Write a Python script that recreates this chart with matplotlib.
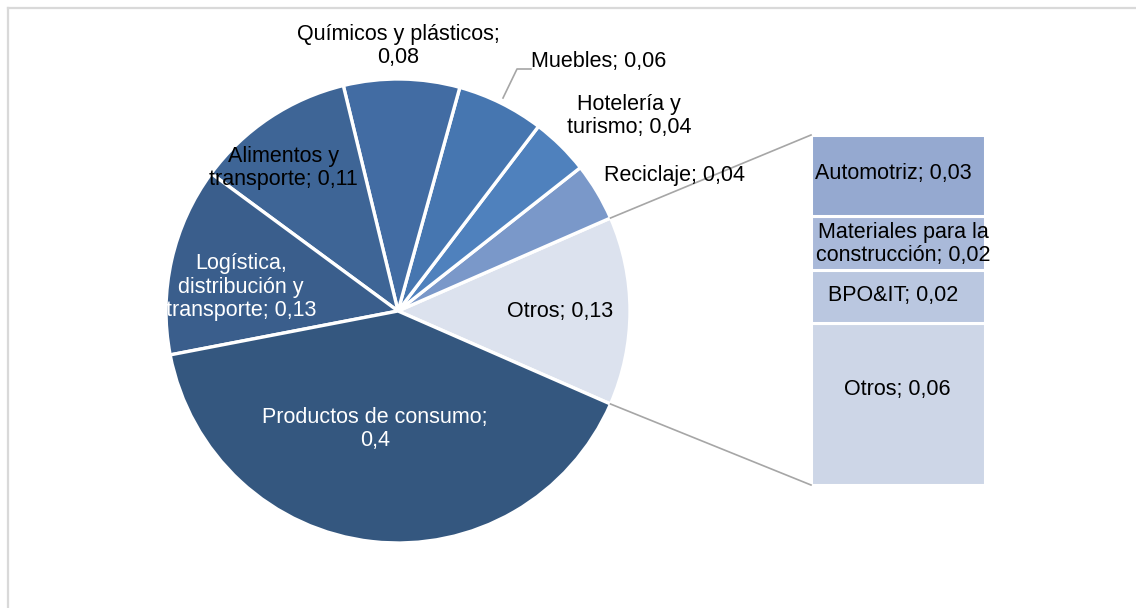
import numpy as np
import matplotlib.pyplot as plt
from matplotlib.lines import Line2D

plt.rcParams['font.family'] = ['Liberation Sans', 'DejaVu Sans']

# datos del pastel (orden antihorario desde "Otros")
pie_labels = ['Otros', 'Reciclaje', 'Hotelería y\nturismo', 'Muebles',
              'Químicos y plásticos;\n', 'Alimentos y\ntransporte',
              'Logística,\ndistribución y\ntransporte', 'Productos de consumo;\n']
pie_values = [0.13, 0.04, 0.04, 0.06, 0.08, 0.11, 0.13, 0.4]
pie_colors = ['#dce2ee', '#7a98c9', '#4f81bd', '#4676b0', '#426ca3',
              '#3e6596', '#3a5e8c', '#34577f']

# datos de la barra (de abajo hacia arriba)
bar_labels = ['Otros', 'BPO&IT', 'Materiales para la\nconstrucción', 'Automotriz']
bar_values = [0.06, 0.02, 0.02, 0.03]
bar_colors = ['#cdd6e7', '#bac7e0', '#a9b9d9', '#95a9d0']

W, H = 1136, 608
fig = plt.figure(figsize=(W / 100, H / 100), dpi=100)
ax = fig.add_axes([0, 0, 1, 1])

def fmt(v):
    return ('%g' % v).replace('.', ',')

# pastel
cx, cy, r = 398, H - 311, 232
frac0 = pie_values[0] / sum(pie_values)
wedges, _ = ax.pie(pie_values, colors=pie_colors, startangle=-frac0 * 180,
                   counterclock=True, center=(cx, cy), radius=r, frame=True,
                   wedgeprops=dict(edgecolor='white', linewidth=2.4))
ax.set_xlim(0, W)
ax.set_ylim(0, H)
ax.axis('off')

fs = 15.5
ls = 1.17
# posiciones de etiquetas (px desde arriba)
pie_pos = [(560, 311), (674, 175), (629, 116), (599, 62), (398, 46),
           (283, 168), (241, 287), (375, 429)]
pie_tc = ['black', 'black', 'black', 'black', 'black', 'black', 'white', 'white']
for i, (lab, v) in enumerate(zip(pie_labels, pie_values)):
    if lab.endswith('\n'):
        txt = lab + fmt(v)
    else:
        txt = lab + '; ' + fmt(v)
    x, y = pie_pos[i]
    ax.text(x, H - y, txt, ha='center', va='center', fontsize=fs,
            color=pie_tc[i], linespacing=ls)

# linea guia de Muebles
ax.plot([531, 517, 503], [H - 69, H - 69, H - 98], color='#a6a6a6', lw=1.2)

# barra
bx, bw = 898, 174
top, bottom = H - 135, H - 485
scale = (top - bottom) / sum(bar_values)
base = bottom
for v, c in zip(bar_values, bar_colors):
    ax.bar(bx, v * scale, width=bw, bottom=base, color=c,
           edgecolor='white', linewidth=2.2)
    base += v * scale
bar_text_pos = [(897, 389), (893, 296), (903, 244), (893, 173)]
for lab, v, (xx, yy) in zip(bar_labels, bar_values, bar_text_pos):
    ax.text(xx, H - yy, lab + '; ' + fmt(v), ha='center', va='center',
            fontsize=fs, color='black', linespacing=ls)

# conectores
w0 = wedges[0]
for ang, by in [(w0.theta2, top), (w0.theta1, bottom)]:
    px = cx + r * np.cos(np.radians(ang))
    py = cy + r * np.sin(np.radians(ang))
    ax.plot([px, bx - bw / 2], [py, by], color='#a6a6a6', lw=1.2)

# borde del grafico
fig.add_artist(Line2D([7.5 / W, 7.5 / W], [0, 1 - 7.5 / H],
                      transform=fig.transFigure, color='#d9d9d9', lw=1.6))
fig.add_artist(Line2D([7.5 / W, 1], [1 - 7.5 / H, 1 - 7.5 / H],
                      transform=fig.transFigure, color='#d9d9d9', lw=1.6))

fig.savefig('out.png', dpi=100, facecolor='white')
